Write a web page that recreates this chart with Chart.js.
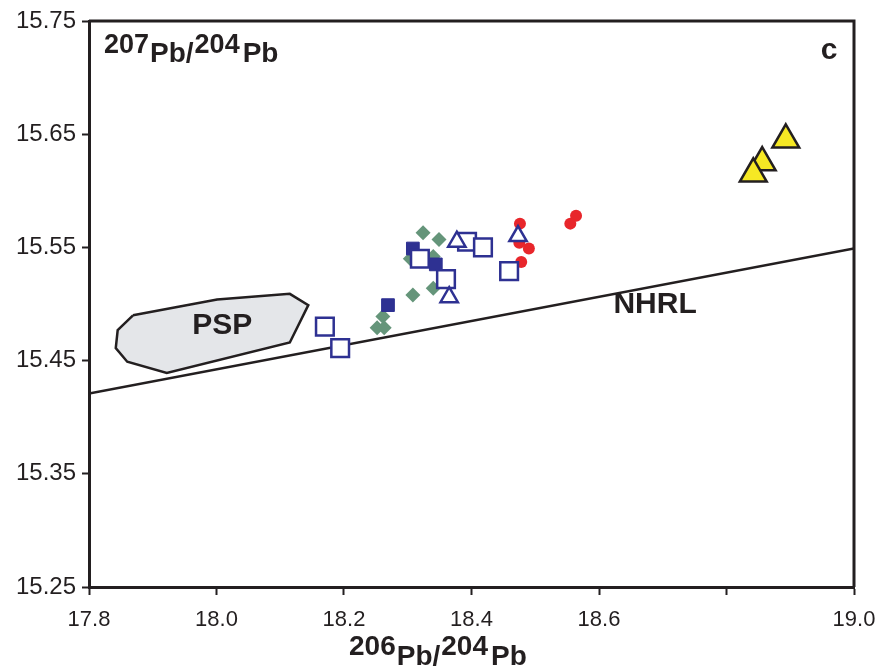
<!DOCTYPE html>
<html lang="en">
<head>
    <meta charset="UTF-8">
    <title>207Pb/204Pb vs 206Pb/204Pb</title>
    <script src="https://cdn.jsdelivr.net/npm/chart.js"></script>
    <style>
        body { margin: 0; background: #fff; }
        #wrap { width: 875px; height: 668px; }
    </style>
</head>
<body>
<div id="wrap"><canvas id="pbChart" width="875" height="668"></canvas></div>
<script>
    // axis ticks (18.8 has a tick mark but no label in the original)
    const xTicks = [17.8, 18.0, 18.2, 18.4, 18.6, 18.8, 19.0];
    const xHiddenLabels = [18.8];
    const yTicks = [15.25, 15.35, 15.45, 15.55, 15.65, 15.75];

    // sample groups: [206Pb/204Pb, 207Pb/204Pb]
    const openSquares = [[18.170, 15.480], [18.194, 15.461], [18.319, 15.540], [18.360, 15.522],
                         [18.393, 15.555], [18.418, 15.550], [18.459, 15.529]];
    const filledSquares = [[18.308, 15.549], [18.344, 15.535], [18.269, 15.499]];
    const openTriangles = [[18.377, 15.555], [18.473, 15.560], [18.365, 15.506]];
    const diamonds = [[18.324, 15.563], [18.349, 15.557], [18.340, 15.542], [18.304, 15.540],
                      [18.340, 15.514], [18.308, 15.508], [18.261, 15.489], [18.252, 15.479], [18.263, 15.479]];
    const redDots = [[18.476, 15.571], [18.475, 15.554], [18.490, 15.549], [18.478, 15.537],
                     [18.564, 15.578], [18.555, 15.571]];
    const yellowTriangles = [[18.893, 15.645], [18.856, 15.625], [18.842, 15.615]];

    // NHRL reference line and PSP field outline
    const nhrl = [[17.8, 15.421], [19.0, 15.549]];
    const psp = [[17.869, 15.490], [18.001, 15.504], [18.115, 15.509], [18.144, 15.499], [18.115, 15.466],
                 [17.922, 15.439], [17.860, 15.449], [17.842, 15.461], [17.845, 15.477], [17.869, 15.490]];

    // text labels placed in data units
    const labels = [
        { text: "PSP", x: 18.009, y: 15.481 },
        { text: "NHRL", x: 18.688, y: 15.499 }
    ];

    const ink = "#231f20";
    const navy = "#2e3192";
    const toXY = arr => arr.map(p => ({ x: p[0], y: p[1] }));

    const textPlugin = {
        id: "texts",
        afterDraw(chart) {
            const ctx = chart.ctx, a = chart.chartArea;
            const xs = chart.scales.x, ys = chart.scales.y;
            ctx.save();
            // top and right frame
            ctx.strokeStyle = ink;
            ctx.lineWidth = 3;
            ctx.beginPath();
            ctx.moveTo(a.left, a.top);
            ctx.lineTo(a.right, a.top);
            ctx.lineTo(a.right, a.bottom);
            ctx.stroke();

            ctx.fillStyle = ink;
            ctx.textAlign = "center";
            ctx.textBaseline = "middle";
            ctx.font = "bold 30px Arial, 'Liberation Sans', sans-serif";
            labels.forEach(l => ctx.fillText(l.text, xs.getPixelForValue(l.x), ys.getPixelForValue(l.y)));
            ctx.fillText("c", a.right - 25, a.top + 30);

            // ratio labels with raised mass numbers
            function ratio(x, y, m1, m2, numSize, elSize, drop) {
                ctx.textAlign = "left";
                ctx.textBaseline = "alphabetic";
                const parts = [[m1, numSize, 0], ["Pb/", elSize, drop], [m2, numSize, 0], ["Pb", elSize, drop]];
                parts.forEach((p, i) => {
                    ctx.font = "bold " + p[1] + "px Arial, 'Liberation Sans', sans-serif";
                    ctx.fillText(p[0], x, y + p[2]);
                    x += ctx.measureText(p[0]).width + (i === 2 ? 3 : 1);
                });
            }
            ratio(a.left + 15, a.top + 32, "207", "204", 27, 28, 9);
            ratio(349, 655, "206", "204", 28, 28, 10);
            ctx.restore();
        }
    };

    const fontFamily = "Arial, 'Liberation Sans', sans-serif";

    new Chart(document.getElementById("pbChart"), {
        type: "scatter",
        data: {
            datasets: [
                { data: toXY(yellowTriangles), pointStyle: "triangle", pointRadius: 15.5, backgroundColor: "#f6e824",
                  borderColor: ink, borderWidth: 2.5, order: 1 },
                { data: toXY(openTriangles), pointStyle: "triangle", pointRadius: 10, backgroundColor: "#ffffff",
                  borderColor: navy, borderWidth: 2.5, order: 2 },
                { data: toXY(openSquares), pointStyle: "rect", pointRadius: 12.5, backgroundColor: "#ffffff",
                  borderColor: navy, borderWidth: 2.5, order: 3 },
                { data: toXY(filledSquares), pointStyle: "rect", pointRadius: 9, backgroundColor: navy,
                  borderColor: navy, borderWidth: 1, order: 4 },
                { data: toXY(redDots), pointStyle: "circle", pointRadius: 6, backgroundColor: "#e8262b",
                  borderColor: "#e8262b", borderWidth: 0, order: 5 },
                { data: toXY(diamonds), pointStyle: "rectRot", pointRadius: 7.5, backgroundColor: "#65957a",
                  borderColor: "#65957a", borderWidth: 0, order: 6 },
                { data: toXY(psp), showLine: true, fill: "shape", backgroundColor: "#e4e6e9", borderColor: ink,
                  borderWidth: 2.5, pointRadius: 0, tension: 0, order: 8 },
                { data: toXY(nhrl), showLine: true, fill: false, borderColor: ink, borderWidth: 2.5,
                  pointRadius: 0, order: 9 }
            ]
        },
        options: {
            responsive: false,
            animation: false,
            events: [],
            layout: { padding: { top: 21, right: 21, left: 0, bottom: 0 } },
            plugins: { legend: { display: false }, tooltip: { enabled: false } },
            scales: {
                x: {
                    min: 17.8, max: 19.0,
                    afterBuildTicks: s => { s.ticks = xTicks.map(v => ({ value: v })); },
                    afterFit: s => { s.height = 81; s.paddingLeft = 0; s.paddingRight = 0; },
                    ticks: { callback: v => xHiddenLabels.includes(v) ? "" : v.toFixed(1),
                             font: { family: fontFamily, size: 22 }, color: ink, padding: 12, maxRotation: 0 },
                    grid: { drawOnChartArea: false, drawTicks: true, tickLength: 8, tickColor: ink, tickWidth: 2 },
                    border: { display: true, color: ink, width: 3 }
                },
                y: {
                    min: 15.25, max: 15.75,
                    afterBuildTicks: s => { s.ticks = yTicks.map(v => ({ value: v })); },
                    afterFit: s => { s.width = 89; s.paddingTop = 0; s.paddingBottom = 0; },
                    ticks: { callback: v => v.toFixed(2), font: { family: fontFamily, size: 24 }, color: ink, padding: 6 },
                    grid: { drawOnChartArea: false, drawTicks: true, tickLength: 7, tickColor: ink, tickWidth: 2 },
                    border: { display: true, color: ink, width: 3 }
                }
            }
        },
        plugins: [textPlugin]
    });
</script>
</body>
</html>
